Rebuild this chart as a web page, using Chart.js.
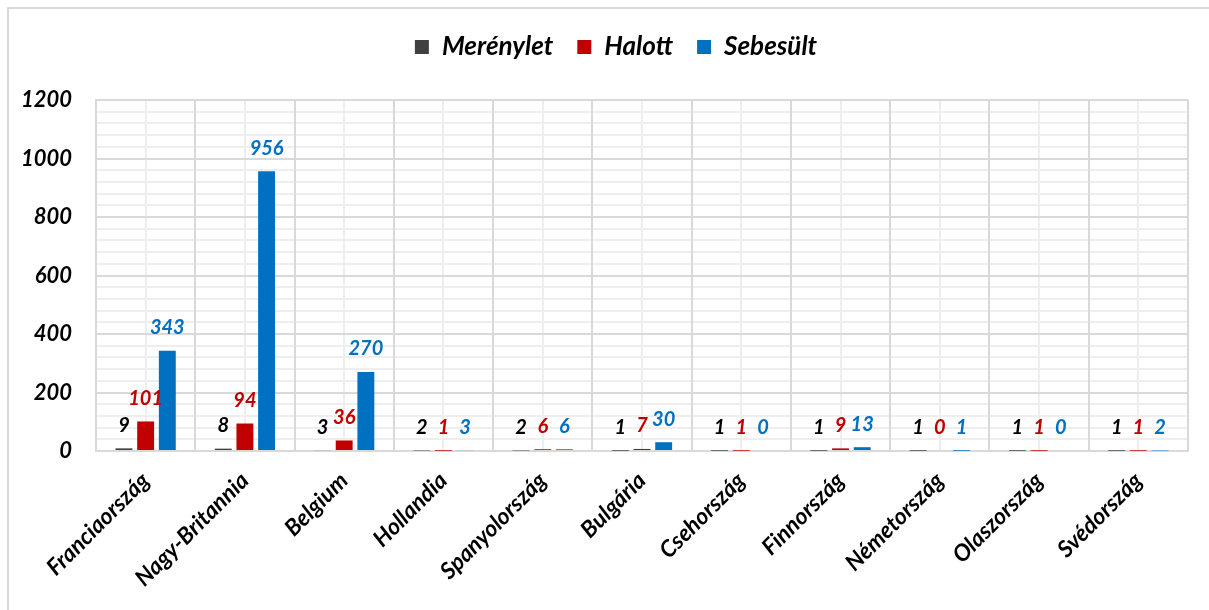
<!DOCTYPE html>
<html>
<head>
<meta charset="utf-8">
<title>Merénylet, Halott, Sebesült</title>
<script src="https://cdn.jsdelivr.net/npm/chart.js@4.4.0/dist/chart.umd.min.js"></script>
<style>
  body { margin: 0; background: #fff; }
  #wrap { position: relative; width: 1209px; height: 610px; overflow: hidden; }
  #frame { position: absolute; left: 7px; top: 7px; width: 1215px; height: 615px; border: 2px solid #d9d9d9; }
  #chart { position: absolute; left: 0; top: 0; }
</style>
</head>
<body>
<div id="wrap">
  <div id="frame"></div>
  <canvas id="chart" width="1209" height="610"></canvas>
</div>
<script>
// data
const countries = ['Franciaország','Nagy-Britannia','Belgium','Hollandia','Spanyolország','Bulgária','Csehország','Finnország','Németország','Olaszország','Svédország'];
const merenylet = [9, 8, 3, 2, 2, 1, 1, 1, 1, 1, 1];
const halott    = [101, 94, 36, 1, 6, 7, 1, 9, 0, 1, 1];
const sebesult  = [343, 956, 270, 3, 6, 30, 0, 13, 1, 0, 2];

const FONT = 'Lato, "Open Sans", sans-serif';
const labelColors = ['#000000', '#C00000', '#0070C0'];

// value labels above each bar (no datalabels plugin offline)
const barLabels = {
  id: 'barLabels',
  afterDatasetsDraw(chart) {
    const ctx = chart.ctx;
    ctx.save();
    ctx.font = 'italic bold 20px ' + FONT;
    ctx.textAlign = 'center';
    ctx.textBaseline = 'middle';
    chart.data.datasets.forEach((ds, di) => {
      const meta = chart.getDatasetMeta(di);
      ctx.fillStyle = labelColors[di];
      meta.data.forEach((bar, i) => {
        ctx.fillText(String(ds.data[i]), bar.x, bar.y - 23);
      });
    });
    ctx.restore();
  }
};

// extra room between legend and plot, legend nudged right a bit
const legendGap = {
  id: 'legendGap',
  beforeInit(chart) {
    const fit = chart.legend.fit;
    chart.legend.fit = function () {
      fit.call(this);
      this.height += 30;
    };
  },
  afterLayout(chart) {
    chart.legend.left += 12;
    chart.legend.right += 12;
  }
};

new Chart(document.getElementById('chart'), {
  type: 'bar',
  data: {
    labels: countries,
    datasets: [
      { label: 'Merénylet', data: merenylet, backgroundColor: '#404040' },
      { label: 'Halott', data: halott, backgroundColor: '#C00000' },
      { label: 'Sebesült', data: sebesult, backgroundColor: '#0070C0' }
    ]
  },
  options: {
    responsive: false,
    animation: false,
    layout: { padding: { top: 10, left: 20, right: 21, bottom: 0 } },
    datasets: { bar: { barPercentage: 0.78, categoryPercentage: 0.655, borderWidth: 0, xAxisID: 'x', yAxisID: 'y' } },
    plugins: {
      tooltip: { enabled: false },
      legend: {
        position: 'top',
        labels: {
          boxWidth: 14, boxHeight: 14, padding: 24, color: '#000',
          font: { family: FONT, size: 26, weight: 'bold', style: 'italic' }
        }
      }
    },
    scales: {
      x: {
        offset: true,
        grid: { offset: true, color: '#d9d9d9', lineWidth: 2, drawTicks: false },
        border: { color: '#d9d9d9', width: 2 },
        ticks: {
          minRotation: 45, maxRotation: 45, padding: 16, color: '#000',
          font: { family: FONT, size: 23, weight: 'bold', style: 'italic' }
        },
        afterFit: s => { s.height = 159; }
      },
      xMinor: {
        type: 'category', labels: countries, position: 'bottom', offset: true,
        grid: { offset: false, color: '#eeeeee', lineWidth: 2, drawTicks: false, z: -2 },
        border: { display: false },
        ticks: { display: false },
        afterFit: s => { s.height = 0; }
      },
      y: {
        min: 0, max: 1200,
        grid: { color: '#d9d9d9', lineWidth: 2, drawTicks: false },
        border: { color: '#d9d9d9', width: 2 },
        ticks: {
          stepSize: 200, padding: 24, color: '#000',
          font: { family: FONT, size: 22, weight: 'bold', style: 'italic' },
          callback: v => String(v)
        },
        afterFit: s => { s.width = 76; }
      },
      yMinor: {
        position: 'left', min: 0, max: 1200,
        grid: { color: '#eeeeee', lineWidth: 2, drawTicks: false, z: -2 },
        border: { display: false },
        ticks: { display: false, stepSize: 40 },
        afterFit: s => { s.width = 0; }
      }
    }
  },
  plugins: [barLabels, legendGap]
});
</script>
</body>
</html>
